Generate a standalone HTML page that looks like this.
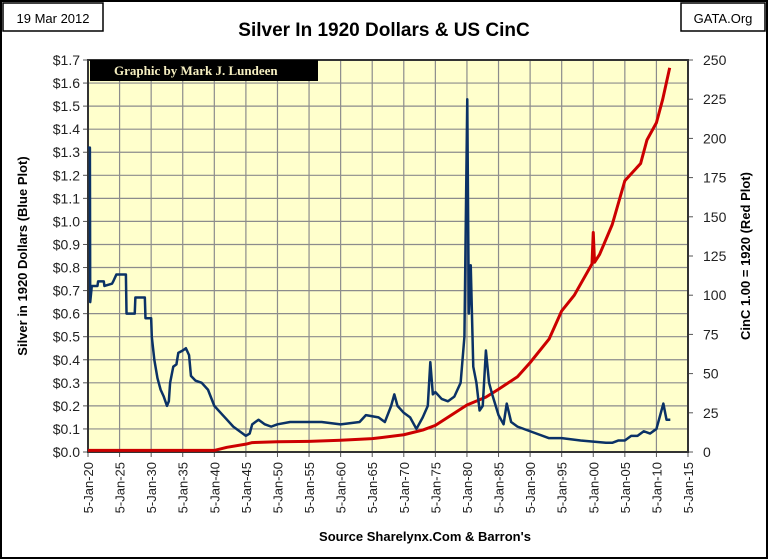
<!DOCTYPE html>
<html><head><meta charset="utf-8"><style>
body{margin:0;background:#fff;}
svg{display:block;font-family:"Liberation Sans",sans-serif;}
</style></head><body>
<svg id="c" width="768" height="559">
<rect x="1" y="1" width="766" height="557" fill="#fff" stroke="#000" stroke-width="2"/>
<rect x="3" y="3" width="100" height="28" fill="#fff" stroke="#000" stroke-width="1.5"/>
<text x="53" y="23" font-size="13" text-anchor="middle">19 Mar 2012</text>
<rect x="681" y="3" width="84" height="28" fill="#fff" stroke="#000" stroke-width="1.5"/>
<text x="723" y="23" font-size="13" text-anchor="middle">GATA.Org</text>
<text x="384" y="36" font-size="19" font-weight="bold" text-anchor="middle">Silver In 1920 Dollars &amp; US CinC</text>
<text x="425" y="541" font-size="13" font-weight="bold" text-anchor="middle">Source Sharelynx.Com &amp; Barron's</text>
<text transform="translate(27,256) rotate(-90)" font-size="13" font-weight="bold" text-anchor="middle">Silver in 1920 Dollars (Blue Plot)</text>
<text transform="translate(750,256) rotate(-90)" font-size="13" font-weight="bold" text-anchor="middle">CinC 1.00 = 1920 (Red Plot)</text>
<g id="g"></g>
</svg>
<script>
const silverYears=[1920,1920.3,1920.35,1920.6,1921.5,1921.6,1922.5,1922.6,1923.8,1924,1924.5,1926,1926.1,1927.4,1927.5,1929,1929.1,1930,1930.1,1930.5,1931,1931.5,1932,1932.5,1932.8,1933,1933.5,1934,1934.3,1935,1935.5,1936,1936.3,1937,1938,1939,1940,1941,1942,1943,1944,1945,1945.6,1946,1946.5,1947,1948,1949,1950,1952,1955,1957,1960,1963,1964,1966,1967,1968,1968.5,1969,1970,1971,1972,1973,1973.8,1974.2,1974.6,1975,1976,1977,1978,1979,1979.6,1980.05,1980.3,1980.6,1981,1981.5,1982,1982.5,1983,1983.5,1984,1985,1985.8,1986.3,1987,1988,1990,1993,1995,1998,2000,2002,2003,2004,2005,2006,2007,2008,2009,2010,2011.1,2011.6,2012.2];
const silverValues=[1.32,1.32,0.65,0.72,0.72,0.74,0.74,0.72,0.73,0.74,0.77,0.77,0.6,0.6,0.67,0.67,0.58,0.58,0.5,0.4,0.32,0.27,0.24,0.2,0.22,0.3,0.37,0.38,0.43,0.44,0.45,0.42,0.33,0.31,0.3,0.27,0.2,0.17,0.14,0.11,0.09,0.07,0.08,0.12,0.13,0.14,0.12,0.11,0.12,0.13,0.13,0.13,0.12,0.13,0.16,0.15,0.13,0.2,0.25,0.2,0.17,0.15,0.1,0.15,0.2,0.39,0.25,0.26,0.23,0.22,0.24,0.3,0.5,1.53,0.6,0.81,0.37,0.3,0.18,0.2,0.44,0.3,0.25,0.16,0.12,0.21,0.13,0.11,0.09,0.06,0.06,0.05,0.045,0.04,0.04,0.05,0.05,0.07,0.07,0.09,0.08,0.1,0.21,0.14,0.14];
const cincYears=[1920,1940,1942,1945,1946,1950,1955,1960,1965,1970,1973,1975,1980,1983,1985,1988,1990,1993,1995,1997,1999.8,2000,2000.2,2001,2003,2005,2007.5,2008.5,2010,2011,2012.1];
const cincValues=[1,1,3,5,6,6.5,6.8,7.5,8.5,11,14,17,30,35,40,48,57,72,90,100,120,140,121,126,145,173,184,199,210,225,245];
const leftTicks=["$0.0","$0.1","$0.2","$0.3","$0.4","$0.5","$0.6","$0.7","$0.8","$0.9","$1.0","$1.1","$1.2","$1.3","$1.4","$1.5","$1.6","$1.7"];
const rightTicks=[0,25,50,75,100,125,150,175,200,225,250];
const xTicks=[1920,1925,1930,1935,1940,1945,1950,1955,1960,1965,1970,1975,1980,1985,1990,1995,2000,2005,2010,2015];
const L=88,R=688,T=60,B=452,NS="http://www.w3.org/2000/svg";
const x=y=>L+(y-1920)/95*(R-L);
const yl=v=>B-v/1.7*(B-T);
const yr=v=>B-v/250*(B-T);
const g=document.getElementById('g');
function el(t,a,p){const e=document.createElementNS(NS,t);for(const k in a)e.setAttribute(k,a[k]);(p||g).appendChild(e);return e;}
const bg=el('rect',{x:L,y:T,width:R-L,height:B-T,fill:'#ffffcc'});


leftTicks.forEach((t,i)=>{const v=i/10,yy=yl(v);
 const gl=el('line',{x1:L,x2:R,y1:yy,y2:yy,stroke:'#8c8c8c','stroke-width':1.2});
 
 
 el('line',{x1:L-5,x2:L,y1:yy,y2:yy,stroke:'#555'});
 const tx=el('text',{x:L-8,y:yy+5,'font-size':14,'text-anchor':'end',fill:'#222'});tx.textContent=t;
 
 
});
rightTicks.forEach(v=>{const yy=yr(v);
 el('line',{x1:R,x2:R+5,y1:yy,y2:yy,stroke:'#555'});
 const tx=el('text',{x:R+15,y:yy+5,'font-size':14,fill:'#222'});tx.textContent=v;
 
 
});
xTicks.forEach(yv=>{const xx=x(yv);
 const gl=el('line',{x1:xx,x2:xx,y1:T,y2:B,stroke:'#8c8c8c','stroke-width':1.2});
 
 
 el('line',{x1:xx,x2:xx,y1:B,y2:B+5,stroke:'#555'});
 const tx=el('text',{transform:`translate(${xx+5},${B+10}) rotate(-90)`,'font-size':13,'text-anchor':'end',fill:'#222'});
 tx.textContent='5-Jan-'+String(yv).slice(2);
 
 
});
const fr=el('rect',{x:L,y:T,width:R-L,height:B-T,fill:'none',stroke:'#333','stroke-width':2});


const red=el('polyline',{points:cincYears.map((yv,i)=>x(yv)+','+yr(cincValues[i])).join(' '),fill:'none',stroke:'#cc0000','stroke-width':3,'stroke-linejoin':'round'});


const blue=el('polyline',{points:silverYears.map((yv,i)=>x(yv)+','+yl(silverValues[i])).join(' '),fill:'none',stroke:'#0b3266','stroke-width':2.5,'stroke-linejoin':'round'});


const cb=el('rect',{x:L+2,y:T,width:228,height:21,fill:'#000'});


const ct=el('text',{x:L+26,y:T+15,'font-size':13,'font-weight':'bold',fill:'#f5eec0','font-family':'Liberation Serif,serif'});
ct.textContent='Graphic by Mark J. Lundeen';


</script>
</body></html>
